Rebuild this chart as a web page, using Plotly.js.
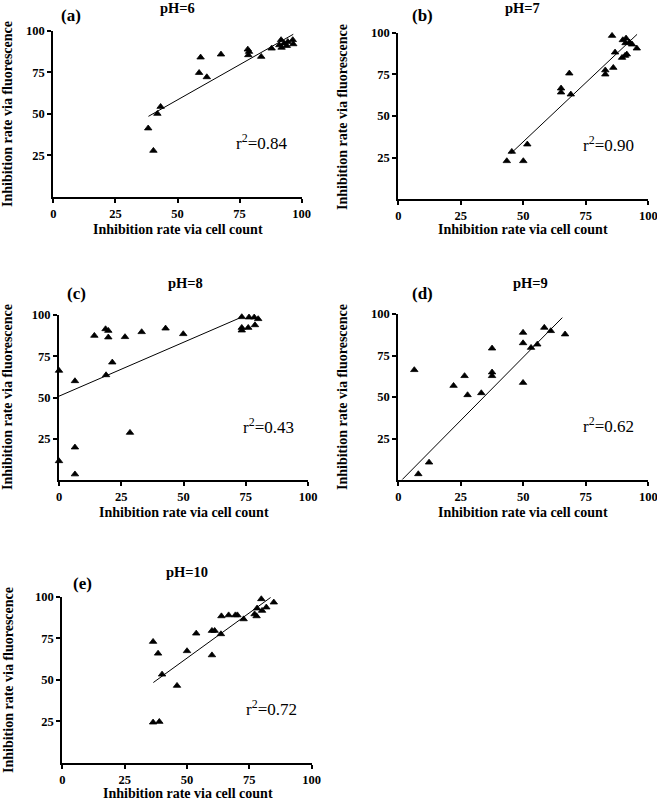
<!DOCTYPE html>
<html>
<head>
<meta charset="utf-8">
<script src="https://cdn.plot.ly/plotly-3.0.1.min.js"></script>
<style>html,body{margin:0;padding:0;background:#fff;}#chart{width:657px;height:800px;}</style>
</head>
<body>
<div id="chart"></div>
<script>
// ---- data ----
const panelLetters = ['(a)', '(b)', '(c)', '(d)', '(e)'];
const panelTitles = ['pH=6', 'pH=7', 'pH=8', 'pH=9', 'pH=10'];
const r2Values = ['0.84', '0.90', '0.43', '0.62', '0.72'];
const xTickVals = [0, 25, 50, 75, 100];
const yTickVals = [25, 50, 75, 100];
const xTitle = 'Inhibition rate via cell count';
const yTitle = 'Inhibition rate via fluorescence';

const aX = [38.2, 40.3, 41.9, 43.2, 58.7, 59.3, 61.8, 67.5, 78.3, 78.5, 78.8, 83.7, 87.9, 91.0, 91.7, 91.9, 92.9, 94.0, 94.4, 96.4, 96.6];
const aY = [41.3, 27.8, 50.1, 54.3, 74.8, 84.1, 72.2, 85.9, 88.9, 85.5, 87.5, 84.5, 89.5, 91.5, 94.6, 90.0, 92.5, 91.1, 93.5, 94.6, 92.1];
const aLineX = [38.3, 96.6];
const aLineY = [48.5, 98.0];

const bX = [43.4, 45.4, 50.0, 51.6, 65.1, 65.1, 68.4, 69.0, 82.8, 82.8, 86.0, 86.7, 85.5, 89.8, 91.1, 90.9, 92.5, 93.5, 95.4, 89.5, 90.7, 91.4];
const bY = [23.0, 28.6, 23.0, 33.0, 66.6, 64.2, 75.6, 63.0, 77.5, 75.0, 79.0, 88.2, 98.2, 95.6, 96.6, 93.8, 94.2, 93.0, 90.6, 85.0, 86.2, 87.0];
const bLineX = [45.0, 95.5];
const bLineY = [27.5, 99.0];

const cX = [0, 0, 6.4, 6.4, 6.4, 14.2, 18.7, 19.8, 19.8, 18.9, 21.4, 26.5, 28.5, 33.2, 42.8, 49.9, 73.4, 73.4, 73.4, 76.3, 76.0, 78.4, 78.7, 80.0];
const cY = [66.3, 11.5, 60.0, 19.8, 3.5, 87.5, 91.5, 90.5, 86.5, 63.6, 71.3, 86.7, 28.7, 89.7, 91.9, 88.5, 98.8, 92.3, 90.7, 98.6, 92.3, 98.6, 93.9, 97.6];
const cLineX = [0, 73.5];
const cLineY = [50.8, 98.8];

const dX = [6.4, 8.0, 12.3, 22.1, 26.5, 27.7, 33.2, 37.5, 37.5, 37.5, 49.9, 49.9, 49.9, 53.1, 55.6, 58.4, 61.0, 66.7];
const dY = [66.3, 3.6, 10.6, 56.8, 62.7, 51.2, 52.4, 79.3, 64.9, 62.7, 88.8, 82.5, 58.6, 79.7, 81.7, 91.8, 89.8, 87.8];
const dLineX = [1.6, 65.6];
const dLineY = [0.3, 97.8];

const eX = [36.4, 38.4, 40.0, 36.4, 38.9, 46.0, 50.0, 53.7, 60.0, 60.0, 61.1, 63.6, 63.8, 66.7, 69.4, 70.2, 72.7, 77.1, 77.9, 78.1, 79.8, 80.1, 81.8, 84.8];
const eY = [72.9, 65.8, 53.2, 24.3, 24.7, 46.4, 67.3, 77.9, 64.8, 79.5, 79.5, 77.5, 88.3, 88.9, 88.9, 88.9, 86.5, 89.5, 88.3, 93.0, 98.6, 91.6, 93.6, 96.6];
const eLineX = [36.5, 83.5];
const eLineY = [48.3, 99.5];

// ---- layout geometry (pixels in a 657x800 canvas) ----
const W = 657, H = 800;
const panels = [
  {pts: [aX, aY], line: [aLineX, aLineY], xpx: [53.3, 301.7], ypx: [31, 196.7],
   letter: [71, 15], title: [177, 8], xt: [177.5, 229], yt: [8, 114]},
  {pts: [bX, bY], line: [bLineX, bLineY], xpx: [398.3, 648.3], ypx: [32.7, 199.3],
   letter: [422, 15], title: [522, 8], xt: [523, 230], yt: [342, 117]},
  {pts: [cX, cY], line: [cLineX, cLineY], xpx: [59, 308], ypx: [315, 480],
   letter: [76, 293], title: [185, 283], xt: [184, 512], yt: [7, 397]},
  {pts: [dX, dY], line: [dLineX, dLineY], xpx: [398.3, 648.3], ypx: [314, 480],
   letter: [422, 293], title: [530, 283], xt: [523, 512], yt: [342, 397]},
  {pts: [eX, eY], line: [eLineX, eLineY], xpx: [62.3, 311.7], ypx: [596.7, 762.7],
   letter: [82, 583], title: [187, 572], xt: [187.5, 793.5], yt: [8, 680]}
];

const serif = '"Liberation Serif", "Times New Roman", serif';
const px2x = p => p / W;
const px2y = p => 1 - p / H;

const data = [];
const annotations = [];
const layout = {
  width: W, height: H,
  margin: {l: 0, r: 0, t: 0, b: 0},
  paper_bgcolor: '#fff', plot_bgcolor: '#fff',
  showlegend: false,
  font: {family: serif, color: '#000'}
};

panels.forEach((p, i) => {
  const n = i + 1;
  const xa = 'x' + (n === 1 ? '' : n), ya = 'y' + (n === 1 ? '' : n);
  const xk = 'xaxis' + (n === 1 ? '' : n), yk = 'yaxis' + (n === 1 ? '' : n);
  const axisCommon = {
    range: [0, 100], showgrid: false, zeroline: false, showline: true,
    linecolor: '#000', linewidth: 2, ticks: 'outside', ticklen: 4, tickwidth: 2,
    tickcolor: '#000', fixedrange: true, ticklabeloverflow: 'allow',
    tickfont: {family: serif, size: 12.5, color: '#000', weight: 'bold'}
  };
  layout[xk] = Object.assign({}, axisCommon, {
    domain: [px2x(p.xpx[0]), px2x(p.xpx[1])],
    anchor: ya, tickmode: 'array', tickvals: xTickVals, ticktext: xTickVals.map(String)
  });
  layout[yk] = Object.assign({}, axisCommon, {
    domain: [px2y(p.ypx[1]), px2y(p.ypx[0])],
    anchor: xa, tickmode: 'array', tickvals: yTickVals, ticktext: yTickVals.map(String)
  });

  data.push({
    type: 'scatter', mode: 'lines', x: p.line[0], y: p.line[1],
    xaxis: xa, yaxis: ya, line: {color: '#000', width: 1}, hoverinfo: 'skip', cliponaxis: false
  });
  data.push({
    type: 'scatter', mode: 'markers', x: p.pts[0], y: p.pts[1],
    xaxis: xa, yaxis: ya, cliponaxis: false,
    marker: {symbol: 'triangle-up', size: 6.5, color: '#000', line: {width: 0.8, color: '#000'}}
  });

  const bold = (t, s) => ({text: t, font: {family: serif, size: s, color: '#000', weight: 'bold'}});
  annotations.push(Object.assign(bold(panelLetters[i], 17), {
    xref: 'paper', yref: 'paper', x: px2x(p.letter[0]), y: px2y(p.letter[1]),
    xanchor: 'center', yanchor: 'middle', showarrow: false}));
  annotations.push(Object.assign(bold(panelTitles[i], 14.5), {
    xref: 'paper', yref: 'paper', x: px2x(p.title[0]), y: px2y(p.title[1]),
    xanchor: 'center', yanchor: 'middle', showarrow: false}));
  annotations.push(Object.assign(bold(xTitle, 14), {
    xref: 'paper', yref: 'paper', x: px2x(p.xt[0]), y: px2y(p.xt[1]),
    xanchor: 'center', yanchor: 'middle', showarrow: false}));
  annotations.push(Object.assign(bold(yTitle, 14), {
    xref: 'paper', yref: 'paper', x: px2x(p.yt[0]), y: px2y(p.yt[1]),
    xanchor: 'center', yanchor: 'middle', showarrow: false, textangle: -90}));
  annotations.push({
    text: 'r<sup>2</sup>=' + r2Values[i], xref: xa, yref: ya, x: 84, y: 33,
    xanchor: 'center', yanchor: 'middle', showarrow: false,
    font: {family: serif, size: 17, color: '#000'}
  });
});
layout.annotations = annotations;

Plotly.newPlot('chart', data, layout, {staticPlot: true, displayModeBar: false});
</script>
</body>
</html>
